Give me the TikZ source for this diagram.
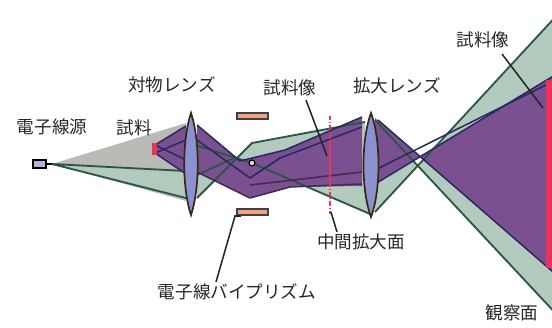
\documentclass[tikz,border=0pt]{standalone}
\usepackage{fontspec}
\setmainfont{Noto Sans CJK JP}

\definecolor{beamgray}{HTML}{BBBBB6}
\definecolor{refgreen}{HTML}{B3CABE}
\definecolor{objpurple}{HTML}{7A5090}
\definecolor{edgegreen}{HTML}{2B5646}
\definecolor{edgenavy}{HTML}{2A2962}
\definecolor{lensblue}{HTML}{8C92D0}
\definecolor{electrode}{HTML}{F2A384}
\definecolor{planered}{HTML}{E8335C}

\begin{document}
\begin{tikzpicture}[x=0.05cm,y=-0.05cm,
  lbl/.style={inner sep=0pt, font=\fontsize{25}{27}\selectfont, text=black!85},
  leader/.style={draw=black!85, line width=2.2pt},
  gedge/.style={draw=edgegreen, line width=2.6pt, line join=round},
  nedge/.style={draw=edgenavy, line width=2.2pt, line join=round},
  lensbody/.style={fill=lensblue, draw=black!70!brown, line width=2.4pt},
  plate/.style={fill=electrode, draw=black!75, line width=2pt}
]
\useasboundingbox (0,0) rectangle (552,327);

% source, specimen and the biprism wire
\coordinate (src) at (52,164);
\coordinate (spT) at (155,145);
\coordinate (spB) at (155,153);
\coordinate (wire) at (252,163);

% illumination cone
\fill[beamgray] (src) -- (186,123) -- (186,201) -- cycle;
% reference wave before the objective
\fill[refgreen] (src) -- (186,171) -- (186,198) -- cycle;
\draw[gedge] (186,171) -- (src) -- (186,198);
% object wave from the specimen
\fill[objpurple] (spT) -- (186,126) -- (186,174) -- (spB) -- cycle;
\draw[nedge] (spT) -- (186,126);
\draw[nedge] (spB) -- (186,174);
\draw[nedge] (spT) -- (186,160);
\draw[nedge] (spB) -- (186,140);
\fill[planered] (152,143) rectangle (157,155);

% between the lenses
\fill[refgreen] (197,174) -- (197,198) -- (252,143) -- (365,122)
  -- (370,214) -- (252,163) -- (232,156) -- cycle;
\fill[objpurple] (197,125) -- (240,161) -- (285,150) -- (362,117)
  -- (362,186) -- (290,187) -- (250,198) -- (197,172) -- cycle;
\draw[gedge] (197,198) -- (252,143) -- (365,122);
\draw[gedge] (198,146) -- (wire) -- (370,214);
\draw[gedge] (197,175) -- (236,157);
\draw[nedge] (197,125) -- (240,161) -- (285,150) -- (362,117);
\draw[nedge] (197,140) -- (250,178) -- (280,158) -- (362,127);
\draw[nedge, draw=objpurple!55!black] (197,172) -- (250,198) -- (290,187) -- (362,184);
\draw[nedge, draw=objpurple!55!black] (250,185) -- (362,172);

% beyond the projector lens
\fill[refgreen] (375,120) -- (375,212) -- (560,12) -- (560,318) -- cycle;
\fill[objpurple] (375,118) -- (375,184) -- (560,72) -- (560,278) -- cycle;
\draw[gedge] (375,212) -- (560,12);
\draw[gedge] (375,120) -- (560,318);
\draw[nedge] (375,184) -- (560,72);
\draw[nedge] (375,170) -- (560,78);
\draw[nedge] (378,120) -- (560,278);
\fill[planered] (546,80) rectangle (552,268);

% intermediate image plane
\draw[planered, line width=1.8pt, dash pattern=on 6pt off 3pt on 1.5pt off 3pt]
  (330,116) -- (330,214);
\draw[planered, line width=3pt] (330,140) -- (330,184);

% lenses
\draw[lensbody] (191,113) .. controls (200,140) and (200,188) .. (191,215)
  .. controls (182,188) and (182,140) .. (191,113) -- cycle;
\draw[lensbody] (371,113) .. controls (381,140) and (381,190) .. (371,217)
  .. controls (361,190) and (361,140) .. (371,113) -- cycle;

% electron source
\draw[line width=2pt, fill=lensblue!70] (33,160) rectangle (46,168);
\draw[line width=2pt] (46,164) -- (src);

% biprism electrodes and wire
\draw[plate] (237,113) rectangle (268,119);
\draw[plate] (237,209) rectangle (268,215);
\draw[line width=1.6pt, fill=beamgray!60] (wire) circle (3);

% labels
\node[lbl] (gun) at (52,127) {電子線源};
\node[lbl] (spec) at (134,128) {試料};
\node[lbl] (objlens) at (172,85) {対物レンズ};
\node[lbl] (img1) at (290,88) {試料像};
\node[lbl] (projlens) at (397,86) {拡大レンズ};
\node[lbl] (img2) at (483,40) {試料像};
\node[lbl] (midplane) at (361,242) {中間拡大面};
\node[lbl] (biprism) at (237,292) {電子線バイプリズム};
\node[lbl] (screen) at (512,313) {観察面};

% leader lines
\coordinate (img1tip) at (327,156);
\coordinate (img2tip) at (543,108);
\coordinate (midtip) at (331,212);
\coordinate (bptip) at (241,216);
\draw[leader] (306,100) -- (img1tip);
\draw[leader] (502,54) -- (img2tip);
\draw[leader] (midtip) -- (337,232);
\draw[leader] (bptip) -- (235,216) -- (216,282);
\end{tikzpicture}
\end{document}
